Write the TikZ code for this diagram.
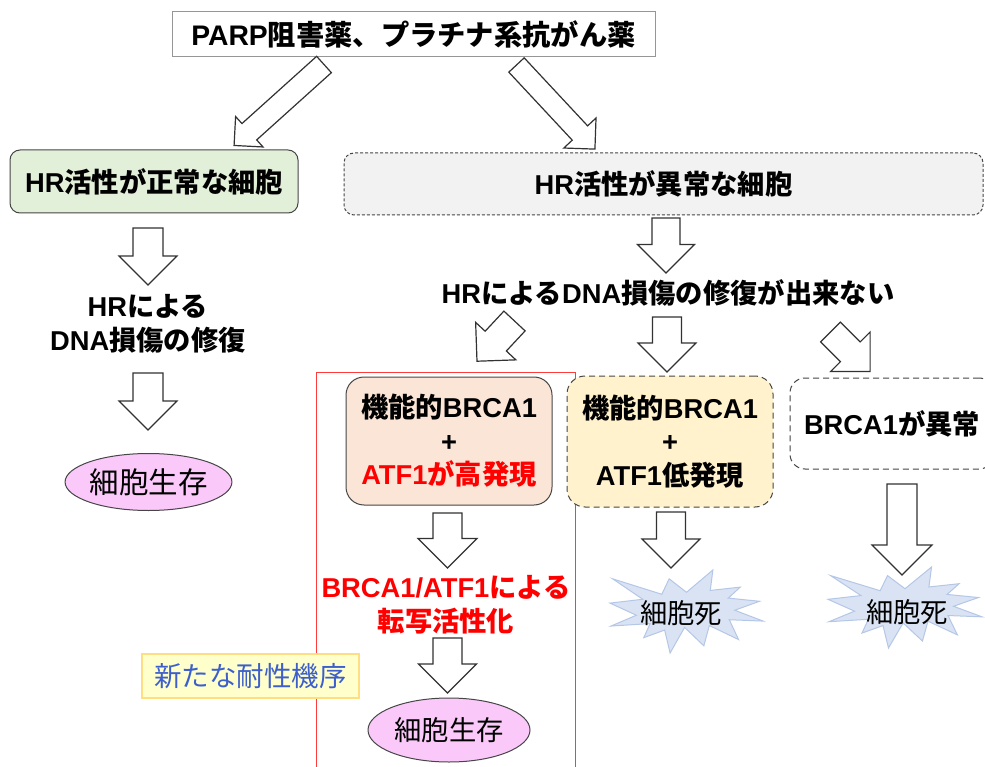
\documentclass[tikz,border=0pt]{standalone}
\usepackage{fontspec}
\setmainfont{Noto Sans CJK JP}
\newfontfamily\lat{Liberation Sans}
\usetikzlibrary{shapes.geometric}
\definecolor{boxline}{RGB}{70,70,70}
\definecolor{arrline}{RGB}{50,50,50}
\definecolor{greenfill}{RGB}{226,239,217}
\definecolor{grayfill}{RGB}{242,242,242}
\definecolor{peachfill}{RGB}{251,229,214}
\definecolor{yellowfill}{RGB}{255,242,204}
\definecolor{pinkfill}{RGB}{250,201,250}
\definecolor{notefill}{RGB}{255,255,204}
\definecolor{noteline}{RGB}{255,222,130}
\definecolor{notetext}{RGB}{60,95,205}
\definecolor{starfill}{RGB}{218,227,243}
\definecolor{starline}{RGB}{180,199,231}
\definecolor{topline}{RGB}{150,150,150}
\definecolor{redline}{RGB}{255,60,60}
\newcommand{\barrow}[5]{%
  \draw[arrowst, shift={#1}, rotate=#2] (0,-#4) -- ({#3-#5},-#4) -- ({#3-#5},-#5) -- (#3,0) -- ({#3-#5},#5) -- ({#3-#5},#4) -- (0,#4) -- cycle;}
\newcommand{\boomshape}[3]{%
  \begin{scope}[shift={#1}, x=#2pt, y=-#3pt]
  \draw[starst] (0.5,0.2685) -- (0.3867,0.1063) -- (0.3385,0.2926) -- (0.0171,0.1063) -- (0.2142,0.3526) -- (0,0.3988) -- (0.1723,0.5451) -- (0.0063,0.6753) -- (0.2624,0.6452) -- (0.2205,0.8156) -- (0.3572,0.7235) -- (0.3928,1) -- (0.4876,0.6914) -- (0.6133,0.9137) -- (0.6491,0.6693) -- (0.8400,0.8377) -- (0.7795,0.5992) -- (1,0.6153) -- (0.8151,0.4850) -- (0.9767,0.3767) -- (0.7732,0.3387) -- (0.8509,0.2063) -- (0.6553,0.2465) -- (0.6723,0) -- cycle;
  \end{scope}}
\begin{document}
\begin{tikzpicture}[x=1pt,y=-1pt,
  box/.style={draw=boxline, line width=1pt, rounded corners=10pt, inner sep=0pt, align=center, font=\fontsize{27.3}{33.5}\selectfont\bfseries},
  txt/.style={inner sep=0pt, align=center, font=\fontsize{27.3}{34}\selectfont\bfseries},
  oval/.style={ellipse, draw=boxline, line width=1pt, fill=pinkfill, inner sep=0pt, font=\fontsize{27.3}{30}\selectfont},
  arrowst/.style={draw=arrline, fill=white, line width=1.2pt, line join=miter},
  starst/.style={draw=starline, fill=starfill, line width=1pt, line join=miter},
  dfine/.style={dash pattern=on 3pt off 2pt},
  dlong/.style={dash pattern=on 6pt off 4pt}]
\useasboundingbox (0,0) rectangle (985,767);
\fill[white] (0,0) rectangle (985,767);
\clip (0,0) rectangle (985,767);

% top
\node[box, rounded corners=0pt, draw=topline, fill=white, minimum width=483pt, minimum height=45pt, font=\fontsize{28.3}{33}\selectfont\bfseries] (top) at (413.5,34.5) {{\lat PARP}阻害薬、プラチナ系抗がん薬};

% left column
\node[box, fill=greenfill, minimum width=288pt, minimum height=63pt] (normal) at (154,181.5) {{\lat HR}活性が正常な細胞};
\node[txt] (repair) at (148,324) {{\lat HR}による\\{\lat DNA}損傷の修復};
\node[oval, minimum width=163pt, minimum height=57pt, font=\fontsize{29.5}{32}\selectfont] (surv1) at (148.5,482) {細胞生存};

% right upper
\node[box, dfine, fill=grayfill, minimum width=639pt, minimum height=62pt] (abn) at (663.5,184) {{\lat HR}活性が異常な細胞};
\node[txt] (norepair) at (668,293) {{\lat HR}による{\lat DNA}損傷の修復が出来ない};

% red frame
\draw[redline, line width=1pt] (316,372) rectangle (575,790);

% lower boxes
\node[box, rounded corners=18pt, fill=peachfill, minimum width=206pt, minimum height=128pt] (high) at (449,441) {機能的{\lat BRCA1}\\{\lat +}\\\textcolor{red}{{\lat ATF1}が高発現}};
\node[box, dlong, rounded corners=18pt, fill=yellowfill, minimum width=206pt, minimum height=131pt] (low) at (670,441.5) {機能的{\lat BRCA1}\\{\lat +}\\{\lat ATF1}低発現};
\node[box, dlong, rounded corners=15pt, fill=white, minimum width=204pt, minimum height=91pt] (brca) at (892,423.5) {{\lat BRCA1}が異常};

\node[txt, text=red] (trans) at (446,605) {{\lat BRCA1/ATF1}による\\転写活性化};
\node[oval, minimum width=162pt, minimum height=64pt] (surv2) at (449,730) {細胞生存};

\node[draw=noteline, fill=notefill, line width=1.2pt, minimum width=217pt, minimum height=44pt, inner sep=0pt, text=notetext, font=\fontsize{27.5}{30}\selectfont] (note) at (250.5,676) {新たな耐性機序};

% stars
\boomshape{(610,570)}{153}{83}
\node[inner sep=0pt, font=\fontsize{27.3}{30}\selectfont] (death1) at (681,613) {細胞死};
\boomshape{(828,567)}{154}{81}
\node[inner sep=0pt, font=\fontsize{27.3}{30}\selectfont] (death2) at (907,612) {細胞死};

% block arrows
\barrow{(324,64.5)}{-138}{121}{11}{20.5}
\barrow{(516.5,65)}{-47}{115}{10.5}{22}
\barrow{(148,228)}{-90}{57}{15}{29}
\barrow{(148,373)}{-90}{57}{15}{29}
\barrow{(666,218)}{-90}{55}{14}{28.5}
\barrow{(514.5,321)}{-133}{55}{14.5}{27.5}
\barrow{(667,317)}{-90}{55}{14.5}{29}
\barrow{(830.5,332)}{-45}{56}{14}{28}
\barrow{(447.5,513)}{-90}{55}{14.5}{29.5}
\barrow{(447.5,638)}{-90}{55}{14.5}{29}
\barrow{(671,512)}{-90}{56}{14.5}{29}
\barrow{(902,484)}{-90}{91}{15}{30}
\end{tikzpicture}
\end{document}
